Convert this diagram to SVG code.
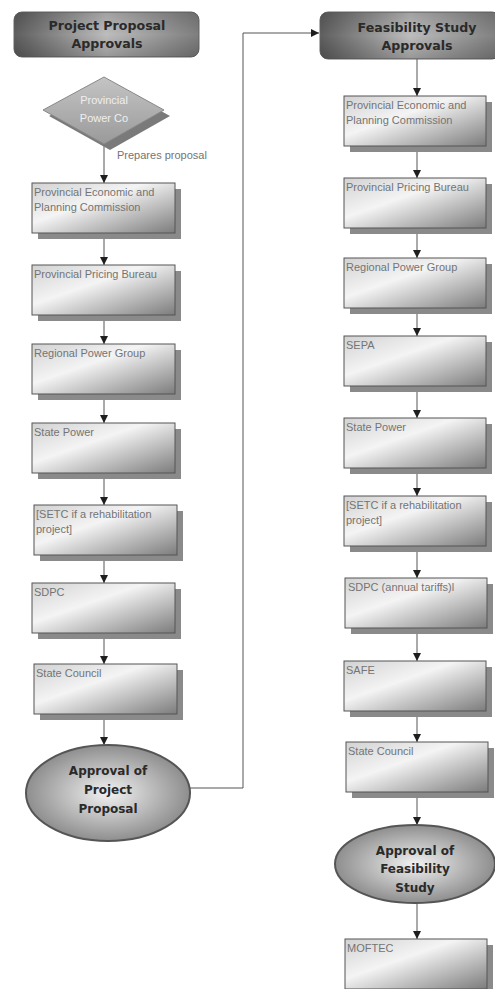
<svg xmlns="http://www.w3.org/2000/svg" width="495" height="989" viewBox="0 0 495 989">
  <defs>
    <linearGradient id="boxFill" x1="0" y1="0" x2="1" y2="1">
      <stop offset="0" stop-color="#d2d2d2"/>
      <stop offset="0.4" stop-color="#f4f4f4"/>
      <stop offset="1" stop-color="#7c7c7c"/>
    </linearGradient>
    <linearGradient id="headFill" x1="0" y1="0" x2="1" y2="0">
      <stop offset="0" stop-color="#5e5e5e"/>
      <stop offset="0.5" stop-color="#bdbdbd"/>
      <stop offset="1" stop-color="#7e7e7e"/>
    </linearGradient>
    <linearGradient id="headShade" x1="0" y1="0" x2="0" y2="1">
      <stop offset="0" stop-color="#000" stop-opacity="0.15"/>
      <stop offset="0.5" stop-color="#000" stop-opacity="0"/>
      <stop offset="1" stop-color="#000" stop-opacity="0.2"/>
    </linearGradient>
    <radialGradient id="ovalFill" cx="0.5" cy="0.5" r="0.5">
      <stop offset="0" stop-color="#f2f2f2"/>
      <stop offset="1" stop-color="#8e8e8e"/>
    </radialGradient>
    <linearGradient id="diamondFill" x1="0" y1="0" x2="0" y2="1">
      <stop offset="0" stop-color="#c4c4c4"/>
      <stop offset="1" stop-color="#9a9a9a"/>
    </linearGradient>
    <marker id="arrow" viewBox="0 0 10 10" refX="10" refY="5" markerWidth="8" markerHeight="8" markerUnits="userSpaceOnUse" orient="auto">
      <path d="M0,0 L10,5 L0,10 Z" fill="#1e1e1e"/>
    </marker>
  </defs>
  <style>
    .shadow { fill: #8a8a8a; }
    .box { fill: url(#boxFill); stroke: #555; stroke-width: 1; }
    .head { fill: url(#headFill); stroke: #666; stroke-width: 1; }
    .oval { fill: url(#ovalFill); stroke: #555; stroke-width: 2; }
    .lbl { font-family: "Liberation Sans", Arial, sans-serif; font-size: 11px; fill: #747474; }
    .light { fill: #efefef; text-anchor: middle; }
    .ttl { font-family: "DejaVu Sans", "Liberation Sans", sans-serif; font-size: 12px; font-weight: bold; fill: #2a2a2a; text-anchor: middle; }
    .big { font-size: 12.6px; }
    .conn { fill: none; stroke: #555; stroke-width: 1; }
  </style>

  <rect width="495" height="989" fill="#fff"/>

  <!-- connectors -->
  <g id="connectors">
    <line class="conn" x1="104" y1="144" x2="104" y2="183" marker-end="url(#arrow)"/>
    <line class="conn" x1="104" y1="233" x2="104" y2="265" marker-end="url(#arrow)"/>
    <line class="conn" x1="104" y1="315" x2="104" y2="344" marker-end="url(#arrow)"/>
    <line class="conn" x1="104" y1="394" x2="104" y2="423" marker-end="url(#arrow)"/>
    <line class="conn" x1="104" y1="473" x2="104" y2="505" marker-end="url(#arrow)"/>
    <line class="conn" x1="104" y1="555" x2="104" y2="583" marker-end="url(#arrow)"/>
    <line class="conn" x1="104" y1="633" x2="104" y2="664" marker-end="url(#arrow)"/>
    <line class="conn" x1="104" y1="714" x2="104" y2="745" marker-end="url(#arrow)"/>
    <polyline class="conn" points="190,788 243,788 243,33 319,33" marker-end="url(#arrow)"/>
    <line class="conn" x1="417" y1="59" x2="417" y2="96" marker-end="url(#arrow)"/>
    <line class="conn" x1="417" y1="146" x2="417" y2="178" marker-end="url(#arrow)"/>
    <line class="conn" x1="417" y1="228" x2="417" y2="258" marker-end="url(#arrow)"/>
    <line class="conn" x1="417" y1="308" x2="417" y2="336" marker-end="url(#arrow)"/>
    <line class="conn" x1="417" y1="386" x2="417" y2="418" marker-end="url(#arrow)"/>
    <line class="conn" x1="417" y1="468" x2="417" y2="496" marker-end="url(#arrow)"/>
    <line class="conn" x1="417" y1="546" x2="417" y2="578" marker-end="url(#arrow)"/>
    <line class="conn" x1="417" y1="628" x2="417" y2="661" marker-end="url(#arrow)"/>
    <line class="conn" x1="417" y1="711" x2="417" y2="742" marker-end="url(#arrow)"/>
    <line class="conn" x1="417" y1="792" x2="417" y2="825" marker-end="url(#arrow)"/>
    <line class="conn" x1="417" y1="903" x2="417" y2="939" marker-end="url(#arrow)"/>
    <text class="lbl" x="117" y="159">Prepares proposal</text>
  </g>

  <!-- left column -->
  <g id="head-project">
    <rect class="head" x="14" y="12" width="185" height="45" rx="8"/>
    <rect x="14" y="12" width="185" height="45" rx="8" fill="url(#headShade)"/>
    <text class="ttl big" x="107" y="30">Project Proposal</text>
    <text class="ttl big" x="107" y="48">Approvals</text>
  </g>

  <g id="power-co">
    <polygon points="110,83 170,116 110,150 49,116" fill="#7a7a7a"/>
    <polygon points="104,77 164,110 104,144 43,110" fill="url(#diamondFill)" stroke="#888" stroke-width="1"/>
    <text class="lbl light" x="104" y="104">Provincial</text>
    <text class="lbl light" x="104" y="122">Power Co</text>
  </g>

  <g id="l-pepc">
    <rect class="shadow" x="38" y="189" width="143" height="50"/>
    <rect class="box" x="32" y="183" width="143" height="50"/>
    <text class="lbl" x="34" y="196">Provincial Economic and</text>
    <text class="lbl" x="34" y="211">Planning Commission</text>
  </g>
  <g id="l-ppb">
    <rect class="shadow" x="38" y="271" width="143" height="50"/>
    <rect class="box" x="32" y="265" width="143" height="50"/>
    <text class="lbl" x="34" y="278">Provincial Pricing Bureau</text>
  </g>
  <g id="l-rpg">
    <rect class="shadow" x="38" y="350" width="143" height="50"/>
    <rect class="box" x="32" y="344" width="143" height="50"/>
    <text class="lbl" x="34" y="357">Regional Power Group</text>
  </g>
  <g id="l-sp">
    <rect class="shadow" x="38" y="429" width="143" height="50"/>
    <rect class="box" x="32" y="423" width="143" height="50"/>
    <text class="lbl" x="34" y="436">State Power</text>
  </g>
  <g id="l-setc">
    <rect class="shadow" x="40" y="511" width="143" height="50"/>
    <rect class="box" x="34" y="505" width="143" height="50"/>
    <text class="lbl" x="36" y="518">[SETC if a rehabilitation</text>
    <text class="lbl" x="36" y="533">project]</text>
  </g>
  <g id="l-sdpc">
    <rect class="shadow" x="38" y="589" width="143" height="50"/>
    <rect class="box" x="32" y="583" width="143" height="50"/>
    <text class="lbl" x="34" y="596">SDPC</text>
  </g>
  <g id="l-council">
    <rect class="shadow" x="40" y="670" width="143" height="50"/>
    <rect class="box" x="34" y="664" width="143" height="50"/>
    <text class="lbl" x="36" y="677">State Council</text>
  </g>
  <g id="l-approval">
    <ellipse class="oval" cx="108" cy="793" rx="82" ry="48"/>
    <text class="ttl" x="108" y="775">Approval of</text>
    <text class="ttl" x="108" y="794">Project</text>
    <text class="ttl" x="108" y="813">Proposal</text>
  </g>

  <!-- right column -->
  <g id="head-feasibility">
    <rect class="head" x="320" y="12" width="180" height="47" rx="8"/>
    <rect x="320" y="12" width="180" height="47" rx="8" fill="url(#headShade)"/>
    <text class="ttl big" x="417" y="32">Feasibility Study</text>
    <text class="ttl big" x="417" y="50">Approvals</text>
  </g>

  <g id="r-pepc">
    <rect class="shadow" x="350" y="102" width="142" height="50"/>
    <rect class="box" x="344" y="96" width="142" height="50"/>
    <text class="lbl" x="346" y="109">Provincial Economic and</text>
    <text class="lbl" x="346" y="124">Planning Commission</text>
  </g>
  <g id="r-ppb">
    <rect class="shadow" x="350" y="184" width="142" height="50"/>
    <rect class="box" x="344" y="178" width="142" height="50"/>
    <text class="lbl" x="346" y="191">Provincial Pricing Bureau</text>
  </g>
  <g id="r-rpg">
    <rect class="shadow" x="350" y="264" width="142" height="50"/>
    <rect class="box" x="344" y="258" width="142" height="50"/>
    <text class="lbl" x="346" y="271">Regional Power Group</text>
  </g>
  <g id="r-sepa">
    <rect class="shadow" x="350" y="342" width="142" height="50"/>
    <rect class="box" x="344" y="336" width="142" height="50"/>
    <text class="lbl" x="346" y="349">SEPA</text>
  </g>
  <g id="r-sp">
    <rect class="shadow" x="350" y="424" width="142" height="50"/>
    <rect class="box" x="344" y="418" width="142" height="50"/>
    <text class="lbl" x="346" y="431">State Power</text>
  </g>
  <g id="r-setc">
    <rect class="shadow" x="350" y="502" width="142" height="50"/>
    <rect class="box" x="344" y="496" width="142" height="50"/>
    <text class="lbl" x="346" y="509">[SETC if a rehabilitation</text>
    <text class="lbl" x="346" y="524">project]</text>
  </g>
  <g id="r-sdpc">
    <rect class="shadow" x="351" y="584" width="142" height="50"/>
    <rect class="box" x="345" y="578" width="142" height="50"/>
    <text class="lbl" x="348" y="591">SDPC (annual tariffs)l</text>
  </g>
  <g id="r-safe">
    <rect class="shadow" x="350" y="667" width="142" height="50"/>
    <rect class="box" x="344" y="661" width="142" height="50"/>
    <text class="lbl" x="346" y="674">SAFE</text>
  </g>
  <g id="r-council">
    <rect class="shadow" x="352" y="748" width="142" height="50"/>
    <rect class="box" x="346" y="742" width="142" height="50"/>
    <text class="lbl" x="348" y="755">State Council</text>
  </g>
  <g id="r-approval">
    <ellipse class="oval" cx="415" cy="864" rx="80" ry="39"/>
    <text class="ttl" x="415" y="855">Approval of</text>
    <text class="ttl" x="415" y="873">Feasibility</text>
    <text class="ttl" x="415" y="892">Study</text>
  </g>
  <g id="r-moftec">
    <rect class="shadow" x="351" y="945" width="142" height="50"/>
    <rect class="box" x="345" y="939" width="142" height="50"/>
    <text class="lbl" x="347" y="952">MOFTEC</text>
  </g>
</svg>
